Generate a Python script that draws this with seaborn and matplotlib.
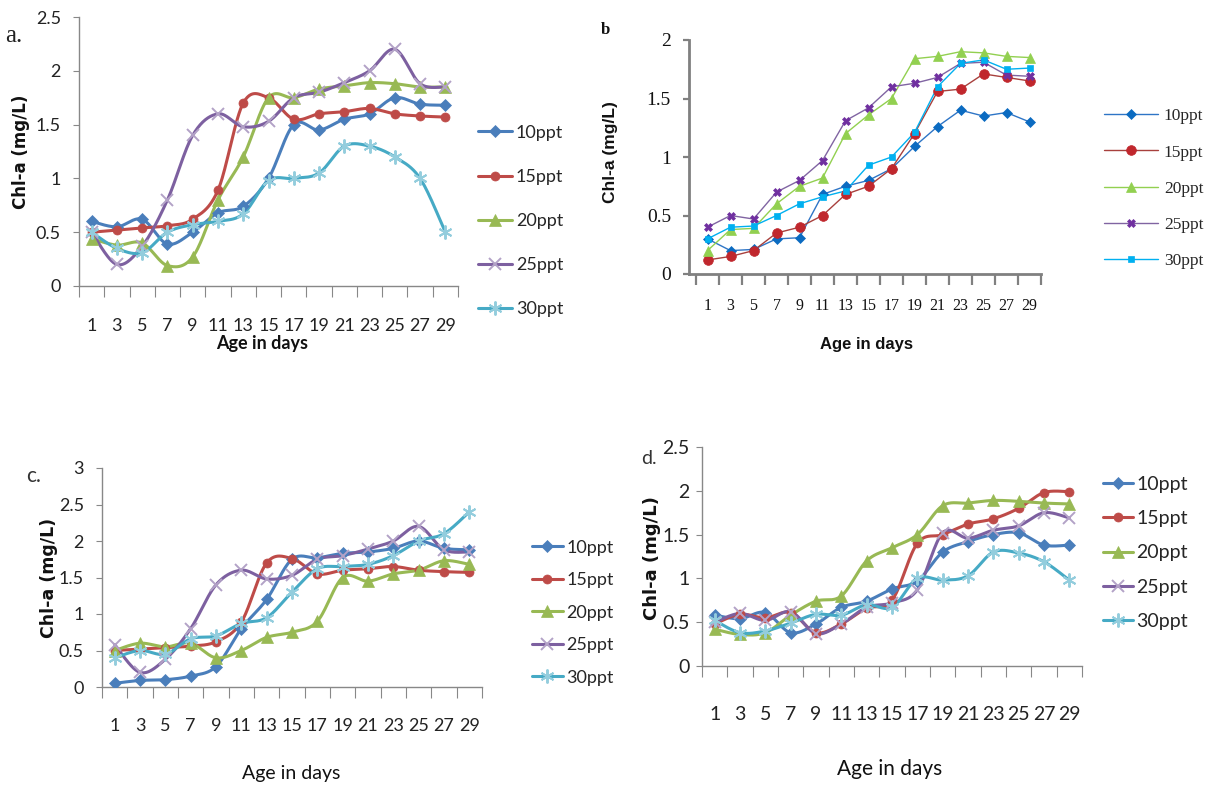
import numpy as np
import pandas as pd
import matplotlib
matplotlib.use("Agg")
import matplotlib.pyplot as plt
from matplotlib.lines import Line2D
from matplotlib import font_manager
import seaborn as sns

# ---------------- data ----------------
days = [1, 3, 5, 7, 9, 11, 13, 15, 17, 19, 21, 23, 25, 27, 29]
series = ["10ppt", "15ppt", "20ppt", "25ppt", "30ppt"]

a_10 = [0.60, 0.55, 0.62, 0.39, 0.50, 0.68, 0.74, 1.00, 1.50, 1.45, 1.55, 1.60, 1.75, 1.69, 1.68]
a_15 = [0.50, 0.52, 0.54, 0.56, 0.62, 0.89, 1.70, 1.75, 1.55, 1.60, 1.62, 1.65, 1.60, 1.58, 1.57]
a_20 = [0.44, 0.38, 0.40, 0.19, 0.27, 0.80, 1.20, 1.75, 1.75, 1.83, 1.86, 1.89, 1.88, 1.85, 1.85]
a_25 = [0.50, 0.20, 0.37, 0.80, 1.40, 1.60, 1.48, 1.53, 1.75, 1.80, 1.89, 2.00, 2.20, 1.88, 1.85]
a_30 = [0.50, 0.35, 0.31, 0.50, 0.57, 0.60, 0.67, 0.98, 1.00, 1.05, 1.30, 1.30, 1.20, 1.00, 0.50]

b_10 = [0.30, 0.20, 0.21, 0.30, 0.31, 0.68, 0.75, 0.80, 0.90, 1.09, 1.26, 1.40, 1.35, 1.38, 1.30]
b_15 = [0.12, 0.15, 0.20, 0.35, 0.40, 0.50, 0.68, 0.75, 0.90, 1.20, 1.56, 1.58, 1.71, 1.68, 1.65]
b_20 = [0.20, 0.38, 0.39, 0.60, 0.75, 0.82, 1.20, 1.36, 1.50, 1.84, 1.86, 1.90, 1.89, 1.86, 1.85]
b_25 = [0.40, 0.50, 0.47, 0.70, 0.80, 0.97, 1.31, 1.42, 1.60, 1.63, 1.68, 1.80, 1.81, 1.70, 1.69]
b_30 = [0.30, 0.40, 0.41, 0.50, 0.60, 0.66, 0.71, 0.93, 1.00, 1.21, 1.60, 1.80, 1.83, 1.75, 1.76]

c_10 = [0.05, 0.09, 0.10, 0.15, 0.28, 0.80, 1.20, 1.75, 1.77, 1.83, 1.85, 1.90, 2.00, 1.90, 1.88]
c_15 = [0.50, 0.52, 0.54, 0.56, 0.62, 0.89, 1.70, 1.76, 1.55, 1.60, 1.62, 1.65, 1.60, 1.58, 1.57]
c_20 = [0.50, 0.60, 0.55, 0.60, 0.40, 0.50, 0.68, 0.75, 0.90, 1.50, 1.45, 1.55, 1.60, 1.73, 1.68]
c_25 = [0.58, 0.20, 0.38, 0.80, 1.40, 1.60, 1.48, 1.53, 1.75, 1.80, 1.89, 2.00, 2.20, 1.88, 1.85]
c_30 = [0.40, 0.50, 0.45, 0.66, 0.70, 0.87, 0.95, 1.30, 1.62, 1.65, 1.68, 1.80, 2.00, 2.10, 2.40]

d_10 = [0.58, 0.54, 0.61, 0.38, 0.48, 0.67, 0.74, 0.88, 0.97, 1.30, 1.42, 1.50, 1.52, 1.38, 1.38]
d_15 = [0.48, 0.59, 0.55, 0.61, 0.38, 0.48, 0.66, 0.75, 1.40, 1.50, 1.62, 1.68, 1.80, 1.98, 1.99]
d_20 = [0.42, 0.36, 0.38, 0.58, 0.74, 0.80, 1.20, 1.35, 1.50, 1.83, 1.86, 1.89, 1.88, 1.86, 1.85]
d_25 = [0.50, 0.60, 0.52, 0.62, 0.37, 0.48, 0.67, 0.72, 0.87, 1.52, 1.46, 1.55, 1.60, 1.75, 1.69]
d_30 = [0.52, 0.38, 0.40, 0.49, 0.59, 0.58, 0.70, 0.67, 1.00, 0.98, 1.03, 1.30, 1.29, 1.19, 0.98]

a_ticks = [0, 0.5, 1, 1.5, 2, 2.5]
b_ticks = [0, 0.5, 1, 1.5, 2]
c_ticks = [0, 0.5, 1, 1.5, 2, 2.5, 3]
d_ticks = [0, 0.5, 1, 1.5, 2, 2.5]

# ---------------- style ----------------
sns.set_theme(style="white")
names = {f.name for f in font_manager.fontManager.ttflist}
def pick(*cands):
    for c in cands:
        if c in names:
            return c
    return "DejaVu Sans"
NARROW = pick("Liberation Sans Narrow", "Lato", "Roboto")
SERIF = pick("Liberation Serif", "DejaVu Serif")
ARIAL = pick("Liberation Sans")
plt.rcParams["font.family"] = [NARROW, "DejaVu Sans"]

W, H = 1215, 786
fig = plt.figure(figsize=(W / 100, H / 100), dpi=100)

def fx(px):
    return px / W

def fy(py):
    return 1 - py / H

# excel style palette (a, c, d)
xl_col = ["#4A7EBB", "#BE4B48", "#98B954", "#7D60A0", "#46AAC5"]
xl_mk_col = ["#4A7EBB", "#BE4B48", "#98B954", "#B3A2C7", "#93CDDD"]
xl_mk = ["D", "o", "^", "x", (6, 2, 0)]
xl_ms = [6.5, 6.5, 8, 8, 10]

# panel b palette
b_col = ["#2E75C6", "#A8403D", "#92D050", "#8064A2", "#00B0F0"]
b_mk_col = ["#0B6BC1", "#C0272D", "#92D050", "#7030A0", "#00B0F0"]
b_mk = ["D", "o", "^", "X", "s"]
b_ms = [5.5, 7, 7, 6, 5]


def smooth(xs, ys, n=30):
    """Excel-style smoothed line (Catmull-Rom Bezier) through the points."""
    pts = np.column_stack([xs, ys]).astype(float)
    out = []
    m = len(pts)
    for i in range(m - 1):
        p0 = pts[i - 1] if i > 0 else pts[i]
        p1 = pts[i]
        p2 = pts[i + 1]
        p3 = pts[i + 2] if i + 2 < m else pts[i + 1]
        c1 = p1 + (p2 - p0) / 6
        c2 = p2 - (p3 - p1) / 6
        t = np.linspace(0, 1, n, endpoint=(i == m - 2))[:, None]
        seg = ((1 - t) ** 3) * p1 + 3 * ((1 - t) ** 2) * t * c1 + 3 * (1 - t) * t ** 2 * c2 + t ** 3 * p2
        out.append(seg)
    out = np.vstack(out)
    return out[:, 0], out[:, 1]


def panel(rect, data, yticks, smooth_lines, cols, mkcols, mks, mss, lw,
          spine_col, spine_lw, xpad, ytick_font, xtick_font, ypad, xmin=-0.5):
    ax = fig.add_axes(rect)
    pos = np.arange(len(days))
    for k, ys in enumerate(data):
        if smooth_lines:
            sx, sy = smooth(pos, ys)
        else:
            sx, sy = pos, np.asarray(ys, float)
        df = pd.DataFrame({"x": sx, "y": sy})
        sns.lineplot(data=df, x="x", y="y", ax=ax, color=cols[k], lw=lw,
                     estimator=None, sort=False, legend=False)
        mk = mks[k]
        lin = mk in ("x",) or isinstance(mk, tuple)
        ax.plot(pos, ys, ls="none", marker=mk, ms=mss[k],
                mfc=mkcols[k], mec=mkcols[k], mew=1.4 if lin else 0.5, zorder=5)
    ax.set_xlim(xmin, len(days) - 0.5)
    ax.set_ylim(yticks[0], yticks[-1])
    ax.set_yticks(yticks)
    ax.set_yticklabels([f"{t:g}" for t in yticks], **ytick_font)
    ax.set_xticks(pos)
    ax.set_xticklabels([str(d) for d in days], **xtick_font)
    ax.set_xticks(np.arange(-0.5, len(days), 1.0), minor=True)
    ax.tick_params(axis="x", which="major", length=0, pad=xpad)
    ax.tick_params(axis="x", which="minor", length=8, width=spine_lw * 0.8,
                   color=spine_col, direction="out", bottom=True)
    ax.tick_params(axis="y", which="major", length=4, width=spine_lw * 0.8,
                   color=spine_col, direction="out", left=True, pad=ypad)
    for s in ["top", "right"]:
        ax.spines[s].set_visible(False)
    for s in ["left", "bottom"]:
        ax.spines[s].set_color(spine_col)
        ax.spines[s].set_linewidth(spine_lw)
    ax.set_xlabel("")
    ax.set_ylabel("")
    ax.grid(False)
    ax.patch.set_alpha(0)
    for spine in ax.spines.values():
        spine.set_zorder(1)
    return ax


def legend(ax, cols, mkcols, mks, mss, lw, left_px, first_center_px, fs_pt,
           spacing, hl, htp, font):
    handles = []
    for k, lab in enumerate(series):
        mk = mks[k]
        lin = mk in ("x",) or isinstance(mk, tuple)
        handles.append(Line2D([], [], color=cols[k], lw=lw, marker=mk, ms=mss[k],
                              mfc=mkcols[k], mec=mkcols[k], mew=1.4 if lin else 0.5,
                              label=lab))
    fs_px = fs_pt * 100 / 72
    ax.legend(handles=handles, loc="upper left",
              bbox_to_anchor=(fx(left_px), fy(first_center_px - 0.62 * fs_px)),
              bbox_transform=fig.transFigure, frameon=False, borderpad=0,
              borderaxespad=0, labelspacing=spacing, handlelength=hl,
              handletextpad=htp, prop=font)


NF = [NARROW, "DejaVu Sans"]

# ---------------- panel a ----------------
nf13 = dict(family=NF, size=13, color="#222222")
ax_a = panel([fx(79), fy(286), fx(458 - 79), (286 - 17) / H],
             [a_10, a_15, a_20, a_25, a_30], a_ticks, True,
             xl_col, xl_mk_col, xl_mk, xl_ms, 2.2, "#888888", 1.0,
             23, nf13, nf13, 9)
legend(ax_a, xl_col, xl_mk_col, xl_mk, xl_ms, 2.2, 478, 136, 13, 1.56, 1.9, 0.2,
       dict(family=NF, size=13))
fig.text(fx(21), fy(152), "Chl-a (mg/L)", rotation=90, ha="center", va="center",
         family="DejaVu Sans", weight="bold", size=12, color="#111111")
fig.text(fx(262), fy(344), "Age in days", ha="center", va="center",
         family=NF, weight="bold", size=13, color="#111111")
fig.text(fx(5), fy(36), "a.", ha="left", va="center", family=SERIF, size=18,
         color="#222222")

# ---------------- panel b ----------------
sf14 = dict(family=SERIF, size=14, color="#111111")
sf11 = dict(family=SERIF, size=11.5, color="#111111")
ax_b = panel([fx(689), fy(274), fx(1041 - 689), (274 - 40) / H],
             [b_10, b_15, b_20, b_25, b_30], b_ticks, False,
             b_col, b_mk_col, b_mk, b_ms, 1.0, "#808080", 2.0,
             17, sf14, sf11, 9, xmin=-0.5 - 7 / 23)
legend(ax_b, b_col, b_mk_col, b_mk, b_ms, 1.0, 1104, 119, 12.5, 1.15, 3.1, 0.35,
       dict(family=SERIF, size=12.5))
fig.text(fx(611), fy(152), "Chl-a (mg/L)", rotation=90, ha="center", va="center",
         family=ARIAL, weight="bold", size=12.5, color="#111111")
fig.text(fx(867), fy(345), "Age in days", ha="center", va="center",
         family=ARIAL, weight="bold", size=12, color="#111111")
fig.text(fx(601), fy(30), "b", ha="left", va="center", family=SERIF,
         weight="bold", size=12, color="#111111")

# ---------------- panel c ----------------
ax_c = panel([fx(102), fy(687), fx(482 - 102), (687 - 468) / H],
             [c_10, c_15, c_20, c_25, c_30], c_ticks, True,
             xl_col, xl_mk_col, xl_mk, xl_ms, 2.2, "#888888", 1.0,
             22, nf13, nf13, 9)
legend(ax_c, xl_col, xl_mk_col, xl_mk, xl_ms, 2.2, 532, 551, 13, 0.91, 1.7, 0.2,
       dict(family=NF, size=13))
fig.text(fx(49), fy(578), "Chl-a (mg/L)", rotation=90, ha="center", va="center",
         family="DejaVu Sans", weight="bold", size=12.5, color="#111111")
fig.text(fx(291), fy(774), "Age in days", ha="center", va="center",
         family=NF, size=14, color="#111111")
fig.text(fx(26), fy(476), "c.", ha="left", va="center",
         family=NF, size=15, color="#333333")

# ---------------- panel d ----------------
nf14 = dict(family=NF, size=14, color="#222222")
ax_d = panel([fx(702), fy(666), fx(1082 - 702), (666 - 447) / H],
             [d_10, d_15, d_20, d_25, d_30], d_ticks, True,
             xl_col, xl_mk_col, xl_mk, xl_ms, 2.2, "#888888", 1.0,
             29, nf14, nf14, 5)
legend(ax_d, xl_col, xl_mk_col, xl_mk, xl_ms, 2.2, 1103, 488, 14, 0.885, 1.55, 0.15,
       dict(family=NF, size=14))
fig.text(fx(652), fy(558), "Chl-a (mg/L)", rotation=90, ha="center", va="center",
         family="DejaVu Sans", weight="bold", size=13, color="#111111")
fig.text(fx(890), fy(769), "Age in days", ha="center", va="center",
         family=NF, size=15, color="#111111")
fig.text(fx(641), fy(459), "d.", ha="left", va="center",
         family=NF, size=14, color="#333333")

fig.savefig("out.png", dpi=100)
